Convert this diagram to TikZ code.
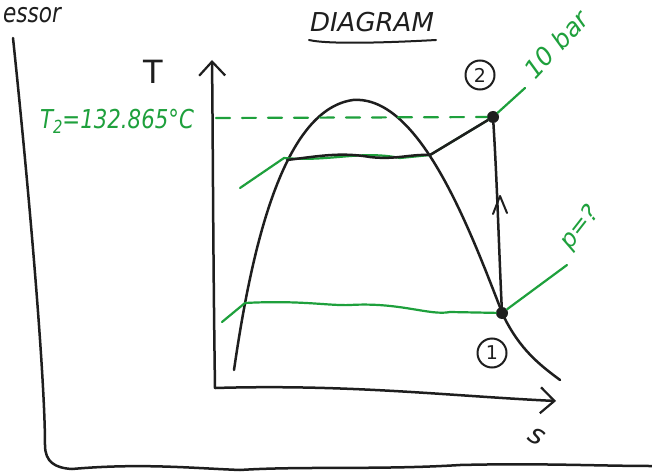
\documentclass[tikz,border=0pt]{standalone}
\usepackage{fontspec}
\setmainfont{DejaVu Sans}
\usetikzlibrary{arrows.meta}
\definecolor{pen}{RGB}{30,30,30}
\definecolor{gpen}{RGB}{30,160,60}
\begin{document}
\begin{tikzpicture}[x=1pt,y=-1pt,
  ink/.style={draw=pen,line width=2.5pt,line cap=round,line join=round},
  gink/.style={draw=gpen,line width=2.2pt,line cap=round,line join=round},
  hand/.style={text=pen,inner sep=0pt},
  ghand/.style={text=gpen,inner sep=0pt},
  statept/.style={circle,fill=pen,inner sep=0pt,minimum size=12pt},
  circled/.style={circle,draw=pen,line width=2pt,inner sep=0pt,minimum size=29pt,font=\fontsize{19}{19}\selectfont,text=pen},
  arr/.style={-{Straight Barb[length=14pt,width=26pt,line width=2.2pt]}}]
\useasboundingbox[fill=white] (0,0) rectangle (652,473);

% frame
\draw[ink] (13,38) .. controls (30,200) and (45,380) .. (45,445) .. controls (45,462) and (55,468) .. (72,469)
  .. controls (140,463) and (190,468) .. (240,470) .. controls (300,466) and (380,470) .. (460,465) .. controls (540,463) and (600,466) .. (652,466);
\node[hand,anchor=west,xscale=0.8,font=\itshape\fontsize{27}{27}\selectfont] (essor) at (3,15) {essor};

% title
\node[hand,font=\itshape\fontsize{26}{26}\selectfont] (title) at (372,22) {DIAGRAM};
\draw[ink,line width=2pt] (309,40) .. controls (330,45) and (400,42) .. (436,40);

% axes
\coordinate (O) at (215,388);
\coordinate (Ttop) at (212,60);
\coordinate (sEnd) at (556,401);
\draw[ink,arr] (O) .. controls (213,250) and (213,150) .. (Ttop);
\draw[ink,arr] (O) .. controls (350,384) and (450,396) .. (sEnd);
\node[hand,font=\fontsize{32}{32}\selectfont] (Tlab) at (153,72) {T};
\node[hand,font=\itshape\fontsize{28}{28}\selectfont,rotate=-30] (slab) at (537,437) {s};

% dome
\coordinate (dl) at (234,370);
\coordinate (dr) at (560,380);
\draw[ink] (dl) .. controls (250,260) and (280,110) .. (353,100)
  .. controls (420,95) and (470,230) .. (503,315)
  .. controls (520,350) and (540,365) .. (dr);

% states
\node[statept] (p2) at (493,117) {};
\node[statept] (p1) at (502,313) {};
\node[circled] (c2) at (480,75) {2};
\node[circled] (c1) at (492,353) {1};

% compression 1 -> 2
\draw[ink] (p1) .. controls (499,250) and (497,180) .. (p2);
\draw[ink,line width=2pt] (493,214) -- (500,196) -- (507,213);

% 10 bar isobar (green)
\coordinate (h0) at (240,188);
\coordinate (h1) at (284,158);
\coordinate (h2) at (430,155);
\coordinate (h3) at (525,88);
\draw[gink] (h0) -- (h1) .. controls (330,162) and (360,150) .. (400,158) -- (h2) -- (p2) -- (h3);
\draw[ink] (287,160) .. controls (320,156) and (340,152) .. (370,157) .. controls (395,160) and (410,154) .. (h2) -- (p2);
\node[ghand,rotate=47,font=\itshape\fontsize{25}{25}\selectfont] (tenbar) at (556,44) {10 bar};

% dashed T2 line
\draw[gink,dashed,dash pattern=on 14pt off 12pt] (216,118) -- (p2);
\node[ghand,xscale=0.82,font=\itshape\fontsize{26}{26}\selectfont] (T2) at (117,121) {T\raisebox{-5pt}{\fontsize{18}{18}\selectfont 2}=132.865°C};

% low isobar
\coordinate (l0) at (222,322);
\coordinate (l1) at (245,303);
\coordinate (l3) at (567,265);
\draw[gink] (l0) -- (l1) .. controls (300,300) and (330,306) .. (350,305) .. controls (400,302) and (430,316) .. (450,312) -- (p1) -- (l3);
\node[ghand,rotate=52,font=\itshape\fontsize{24}{24}\selectfont] (plab) at (580,228) {p=?};
\end{tikzpicture}
\end{document}
